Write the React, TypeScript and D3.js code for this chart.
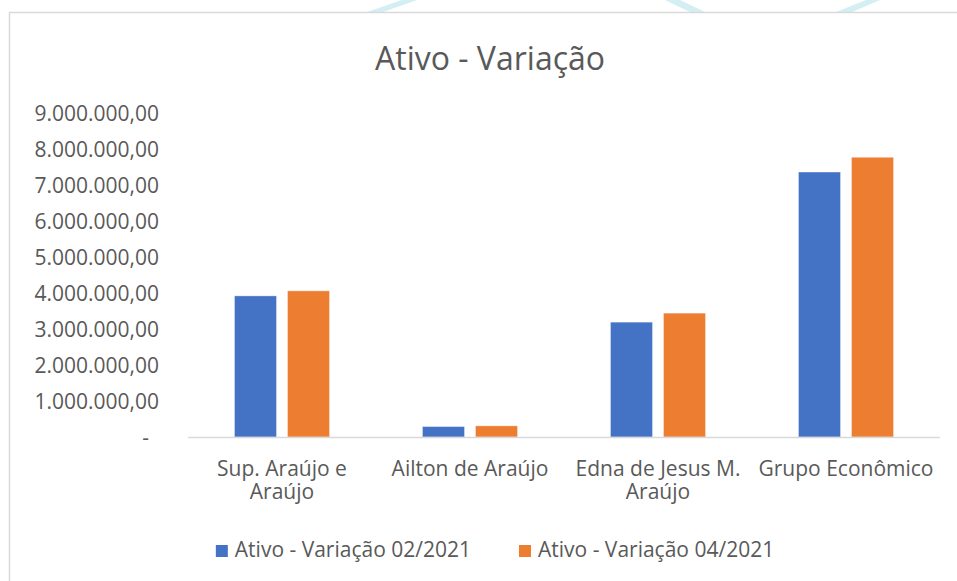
import React, { useEffect, useRef } from "react";
import * as d3 from "d3";

const CATEGORIES = ["Sup. Araújo e Araújo", "Ailton de Araújo", "Edna de Jesus M. Araújo", "Grupo Econômico"];
const SERIES = ["Ativo - Variação 02/2021", "Ativo - Variação 04/2021"];
const VALUES_02 = [3920000, 290000, 3190000, 7360000];
const VALUES_04 = [4060000, 310000, 3440000, 7770000];
const Y_TICKS = [0, 1000000, 2000000, 3000000, 4000000, 5000000, 6000000, 7000000, 8000000, 9000000];

const COLORS = ["#4472C4", "#ED7D31"];
const TEXT = "#595959";
const FONT = "'Open Sans', sans-serif";

const W = 957;
const H = 581;

const br = d3.formatLocale({ decimal: ",", thousands: ".", grouping: [3], currency: ["R$", ""] });
const fmt = br.format(",.2f");

function wrap(sel: d3.Selection<SVGTextElement, string, any, any>, maxW: number) {
  sel.each(function (d) {
    const text = d3.select(this);
    const words = d.split(" ");
    const x = text.attr("x");
    text.text(null);
    let line: string[] = [];
    let n = 0;
    let tspan = text.append("tspan").attr("x", x).attr("dy", 0);
    words.forEach((w) => {
      line.push(w);
      tspan.text(line.join(" "));
      if ((tspan.node() as SVGTSpanElement).getComputedTextLength() > maxW && line.length > 1) {
        line.pop();
        tspan.text(line.join(" "));
        line = [w];
        n++;
        tspan = text.append("tspan").attr("x", x).attr("dy", 23).text(w);
      }
    });
  });
}

function draw(svgEl: SVGSVGElement) {
  const svg = d3.select(svgEl);
  svg.selectAll("*").remove();

  svg.append("rect").attr("width", W).attr("height", H).attr("fill", "#fff");

  // faint watermark strokes above the chart frame
  const marks = [
    [[367, 12], [383, 12], [417, 0], [402, 0]],
    [[665, 0], [680, 0], [705, 12], [690, 12]],
    [[836, 12], [852, 12], [880, 0], [866, 0]],
  ];
  svg.append("g").selectAll("polygon").data(marks).join("polygon")
    .attr("points", (d) => d.map((p) => p.join(",")).join(" "))
    .attr("fill", "#d3eff3");

  // chart frame
  svg.append("rect")
    .attr("x", 9.5).attr("y", 12.5).attr("width", W + 20).attr("height", H + 20)
    .attr("fill", "#fff").attr("stroke", "#d9d9d9").attr("stroke-width", 1.5);

  const plot = { left: 188, right: 940, top: 113, bottom: 437 };

  const y = d3.scaleLinear().domain([0, 9000000]).range([plot.bottom, plot.top]);
  const x0 = d3.scaleBand<string>().domain(CATEGORIES).range([plot.left, plot.right]).padding(0);
  const x1 = d3.scaleBand<string>().domain(SERIES).range([0, x0.bandwidth()])
    .paddingInner(0.2075).paddingOuter(0.877);

  // title
  svg.append("text")
    .attr("x", 490).attr("y", 70)
    .attr("text-anchor", "middle")
    .attr("font-family", FONT).attr("font-size", 32).attr("fill", TEXT)
    .text("Ativo - Variação");

  // y tick labels
  svg.append("g").selectAll("text").data(Y_TICKS).join("text")
    .attr("x", (d) => (d === 0 ? 149 : 159))
    .attr("y", (d) => y(d) + 7.5)
    .attr("text-anchor", "end")
    .attr("font-family", FONT).attr("font-size", 21).attr("fill", TEXT)
    .text((d) => (d === 0 ? "-" : fmt(d)));

  // bars
  const table = CATEGORIES.map((c, i) => ({ c, vals: [VALUES_02[i], VALUES_04[i]] }));
  const groups = svg.append("g").selectAll("g").data(table).join("g")
    .attr("transform", (d) => `translate(${x0(d.c)},0)`);
  groups.selectAll("rect")
    .data((d) => d.vals.map((v, j) => ({ s: SERIES[j], v, j })))
    .join("rect")
    .attr("x", (d) => x1(d.s)!)
    .attr("y", (d) => y(d.v))
    .attr("width", x1.bandwidth())
    .attr("height", (d) => y(0) - y(d.v))
    .attr("fill", (d) => COLORS[d.j])
    .attr("stroke", "#fff").attr("stroke-opacity", 0.35).attr("stroke-width", 1);

  // category axis line
  svg.append("line")
    .attr("x1", plot.left).attr("x2", plot.right)
    .attr("y1", y(0) + 0.5).attr("y2", y(0) + 0.5)
    .attr("stroke", "#d9d9d9").attr("stroke-width", 1.5);

  // category labels
  svg.append("g").selectAll("text").data(CATEGORIES).join("text")
    .attr("x", (d) => x0(d)! + x0.bandwidth() / 2)
    .attr("y", 476)
    .attr("text-anchor", "middle")
    .attr("font-family", FONT).attr("font-size", 21).attr("fill", TEXT)
    .text((d) => d)
    .call(wrap as any, 180);

  // legend
  const legend = svg.append("g");
  const items = legend.selectAll("g").data(SERIES).join("g");
  items.append("rect").attr("width", 12).attr("height", 12).attr("y", -12)
    .attr("fill", (_, i) => COLORS[i]);
  items.append("text").attr("x", 19)
    .attr("font-family", FONT).attr("font-size", 21).attr("fill", TEXT)
    .text((d) => d);
  const widths: number[] = [];
  items.each(function () {
    widths.push(19 + (d3.select(this).select("text").node() as SVGTextElement).getComputedTextLength());
  });
  const gap = 48;
  const total = d3.sum(widths) + gap * (widths.length - 1);
  let cx = 495 - total / 2;
  items.attr("transform", (_, i) => {
    const t = `translate(${cx},${557})`;
    cx += widths[i] + gap;
    return t;
  });
}

export default function App() {
  const svgRef = useRef<SVGSVGElement>(null);

  useEffect(() => {
    if (!svgRef.current) return;
    draw(svgRef.current);
    if ((document as any).fonts?.ready) {
      (document as any).fonts.ready.then(() => svgRef.current && draw(svgRef.current));
    }
  }, []);

  return (
    <div style={{ position: "absolute", left: 0, top: 0, width: W, height: H, overflow: "hidden" }}>
      <svg ref={svgRef} width={W} height={H} style={{ display: "block" }} />
    </div>
  );
}
